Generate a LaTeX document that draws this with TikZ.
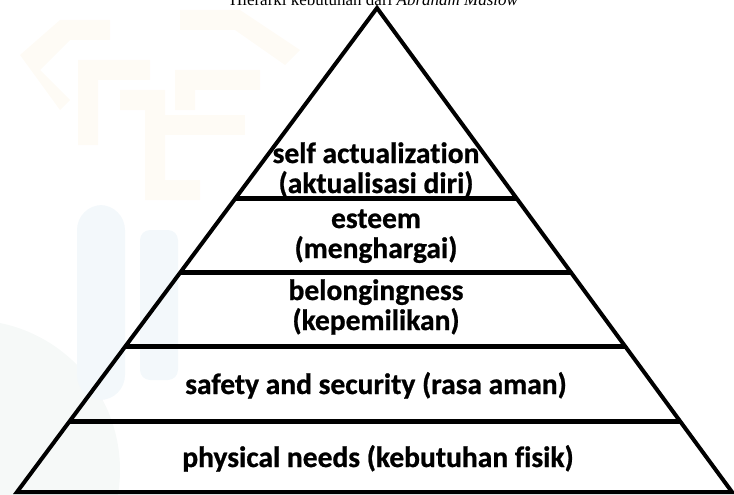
\documentclass[tikz,border=0pt]{standalone}
\usepackage{fontspec}
\setmainfont{Carlito}
\newfontfamily\lblfont{Carlito}[BoldFeatures={FakeBold=0.8}, RawFeature={-liga;-clig}]
\newfontfamily\titlefont{Liberation Serif}
\usetikzlibrary{calc}
\definecolor{wmyellow}{HTML}{FEFBF5}
\definecolor{wmblue}{HTML}{F3F8FB}
\definecolor{wmgreen}{HTML}{F6F9F8}
\tikzset{
  x=1pt, y=-1pt,
  edge/.style={line width=4pt, line join=miter},
  tier/.style={line width=5pt},
  lbl/.style={inner sep=0pt, anchor=base, font=\lblfont\fontsize{29.5}{30}\selectfont\bfseries},
  ttl/.style={inner sep=0pt, anchor=base, font=\titlefont\fontsize{17}{20}\selectfont}
}
\begin{document}
\begin{tikzpicture}
\useasboundingbox (0,0) rectangle (734,495);
% faint watermark
\begin{scope}
\clip (0,0) rectangle (734,495);
\fill[wmgreen] (-30,470) circle (150);
\fill[wmblue, rounded corners=25pt] (77,205) rectangle (125,400);
\fill[wmblue, rounded corners=10pt] (140,230) rectangle (178,380);
\fill[wmyellow] (20,55) -- (60,20) -- (110,20) -- (110,40) -- (70,40) -- (40,70) -- (70,100) -- (60,110) -- cycle;
\fill[wmyellow] (78,60) -- (150,60) -- (150,80) -- (98,80) -- (98,145) -- (78,145) -- cycle;
\fill[wmyellow] (120,90) -- (165,90) -- (165,180) -- (200,180) -- (200,200) -- (145,200) -- (145,110) -- (120,110) -- cycle;
\fill[wmyellow] (180,10) -- (240,10) -- (300,50) -- (285,65) -- (235,30) -- (180,30) -- cycle;
\fill[wmyellow] (175,70) -- (260,70) -- (260,90) -- (195,90) -- (195,110) -- (175,110) -- cycle;
\fill[wmyellow] (165,115) -- (245,115) -- (245,135) -- (165,135) -- cycle;
% cut-off title
\node[ttl] (title) at (374,5.5) {Hierarki kebutuhan dari \textit{Abraham Maslow}};
\end{scope}
% pyramid
\coordinate (A) at (377,8);
\coordinate (BL) at (17,492);
\coordinate (BR) at (732,492);
\foreach \n/\t in {1/0.3946, 2/0.5475, 3/0.7004, 4/0.8533} {
  \coordinate (L\n) at ($(A)!\t!(BL)$);
  \coordinate (R\n) at ($(A)!\t!(BR)$);
}
\draw[edge] (A) -- (BL) -- (BR) -- cycle;
\foreach \n in {1,2,3,4} { \draw[tier] (L\n) -- (R\n); }
% labels
\node[lbl] (sa1) at (376,163) {self actualization};
\node[lbl] (sa2) at (376,193) {(aktualisasi diri)};
\node[lbl] (es1) at (376,228) {esteem};
\node[lbl] (es2) at (376,258) {(menghargai)};
\node[lbl] (be1) at (376,300) {belongingness};
\node[lbl] (be2) at (376,330) {(kepemilikan)};
\node[lbl] (sf) at (376,394) {safety and security (rasa aman)};
\node[lbl] (ph) at (378,467) {physical needs (kebutuhan fisik)};
\end{tikzpicture}
\end{document}
